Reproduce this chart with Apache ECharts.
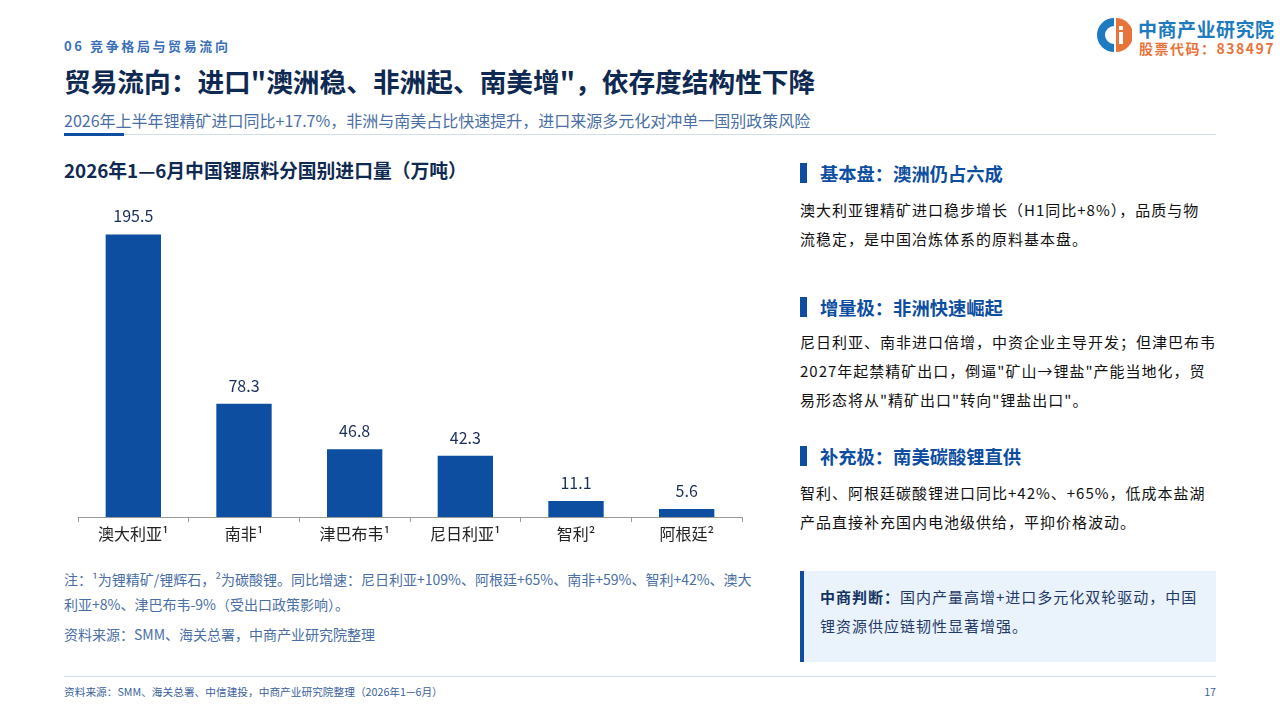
<!DOCTYPE html>
<html>
<head>
<meta charset="utf-8">
<script src="https://cdn.jsdelivr.net/npm/echarts@6/dist/echarts.min.js"></script>
<style>
  html, body { margin: 0; padding: 0; }
  body { width: 1280px; height: 720px; position: relative; background: #fff; overflow: hidden;
         font-family: "Noto Sans CJK SC", "Noto Sans", sans-serif; }
  .abs { position: absolute; white-space: nowrap; }
  .sec { left: 64px; top: 36px; font-size: 13px; font-weight: bold; color: #3a70b8; letter-spacing: 2.6px; }
  .title { left: 64px; top: 61px; font-size: 26.7px; font-weight: bold; color: #0f2a52; }
  .sub { left: 64px; top: 108px; font-size: 16px; color: #4a6fa5; }
  .rule { left: 124px; top: 134px; width: 1092px; height: 1px; background: #d3deec; }
  .rule-b { left: 64px; top: 133px; width: 60px; height: 3px; background: #0d4ea0; }
  .ctitle { left: 64px; top: 156px; font-size: 18.8px; font-weight: bold; color: #0f2a52; }
  #main { position: absolute; left: 0; top: 190px; width: 780px; height: 370px; }
  .note { position: absolute; left: 64px; top: 567px; width: 700px; font-size: 14px; line-height: 25px; color: #4a6fa5; }
  .h { position: absolute; left: 800px; font-size: 18.3px; font-weight: bold; color: #0d4ea0; padding-left: 20px; line-height: 20px; }
  .h:before { content: ""; position: absolute; left: 0; top: 0; width: 7px; height: 20px; background: #0d4ea0; }
  .p { position: absolute; left: 800px; white-space: nowrap; font-size: 15px; letter-spacing: 1px; line-height: 29px; color: #111; }
  .box { position: absolute; left: 800px; top: 571px; width: 396px; height: 80px; background: #eaf2fb;
         border-left: 4px solid #0d4ea0; padding: 11px 0 0 16px; box-sizing: content-box; white-space: nowrap;
         font-size: 15px; letter-spacing: 1px; line-height: 29px; color: #1f3a66; }
  .box b { color: #143463; }
  .frule { left: 64px; top: 676px; width: 1152px; height: 1px; background: #d3deec; }
  .foot { left: 64px; top: 684px; font-size: 10.7px; color: #3a5f9a; }
  .pg { left: 1200px; top: 684px; width: 16px; text-align: right; font-size: 10.7px; color: #3a5f9a; }
  .logo1 { left: 1138px; top: 15px; font-size: 19px; font-weight: bold; color: #1f7bc0; letter-spacing: 0.5px; }
  .logo2 { left: 1139px; top: 38px; font-size: 14px; font-weight: bold; color: #e8743b; letter-spacing: 1.5px; }
</style>
</head>
<body>
<div class="abs sec">06 竞争格局与贸易流向</div>
<div class="abs title">贸易流向：进口"澳洲稳、非洲起、南美增"，依存度结构性下降</div>
<div class="abs sub">2026年上半年锂精矿进口同比+17.7%，非洲与南美占比快速提升，进口来源多元化对冲单一国别政策风险</div>
<div class="abs rule"></div>
<div class="abs rule-b"></div>

<svg class="abs" style="left:1096px;top:17px" width="36" height="36" viewBox="0 0 36 36">
  <path d="M18 1 A17 17 0 0 0 18 35 L18 27 A9 9 0 0 1 18 9 Z" fill="#1f7bc0"/>
  <path d="M20 1 A17 17 0 0 1 20 35 Z" fill="#e8743b"/>
  <rect x="23" y="15" width="4" height="12" fill="#fff"/>
  <rect x="23" y="9" width="4" height="4" fill="#fff"/>
</svg>
<div class="abs logo1">中商产业研究院</div>
<div class="abs logo2">股票代码：838497</div>

<div class="abs ctitle">2026年1—6月中国锂原料分国别进口量（万吨）</div>
<div id="main"></div>
<div class="note">注：¹为锂精矿/锂辉石，²为碳酸锂。同比增速：尼日利亚+109%、阿根廷+65%、南非+59%、智利+42%、澳大利亚+8%、津巴布韦-9%（受出口政策影响）。<div style="margin-top:5px">资料来源：SMM、海关总署，中商产业研究院整理</div></div>

<div class="h" style="top:163px">基本盘：澳洲仍占六成</div>
<div class="p" style="top:195px">澳大利亚锂精矿进口稳步增长（H1同比+8%），品质与物<br>流稳定，是中国冶炼体系的原料基本盘。</div>
<div class="h" style="top:297px">增量极：非洲快速崛起</div>
<div class="p" style="top:327px">尼日利亚、南非进口倍增，中资企业主导开发；但津巴布韦<br>2027年起禁精矿出口，倒逼"矿山→锂盐"产能当地化，贸<br>易形态将从"精矿出口"转向"锂盐出口"。</div>
<div class="h" style="top:446px">补充极：南美碳酸锂直供</div>
<div class="p" style="top:478px">智利、阿根廷碳酸锂进口同比+42%、+65%，低成本盐湖<br>产品直接补充国内电池级供给，平抑价格波动。</div>
<div class="box"><b>中商判断：</b>国内产量高增+进口多元化双轮驱动，中国<br>锂资源供应链韧性显著增强。</div>

<div class="abs frule"></div>
<div class="abs foot">资料来源：SMM、海关总署、中信建投，中商产业研究院整理（2026年1—6月）</div>
<div class="abs pg">17</div>

<script>
var countries = ['澳大利亚¹', '南非¹', '津巴布韦¹', '尼日利亚¹', '智利²', '阿根廷²'];
var imports = [195.5, 78.3, 46.8, 42.3, 11.1, 5.6];

var chart = echarts.init(document.getElementById('main'));
chart.setOption({
  animation: false,
  textStyle: { fontFamily: 'Noto Sans CJK SC' },
  grid: { left: 78, right: 38, top: 9, bottom: 43 },
  xAxis: {
    type: 'category',
    data: countries,
    axisLine: { lineStyle: { color: '#999', width: 1 } },
    axisTick: { show: true, length: 5, lineStyle: { color: '#999' } },
    axisLabel: { fontSize: 16, color: '#222', margin: 9 }
  },
  yAxis: { type: 'value', min: 0, max: 220, show: false, splitLine: { show: false } },
  series: [{
    type: 'bar',
    data: imports,
    barWidth: '50%',
    itemStyle: { color: '#0d4ea0' },
    label: { show: true, position: 'top', distance: 10, fontSize: 16, color: '#1a2f5a',
             formatter: function (p) { return p.value.toFixed(1); } }
  }]
});
</script>
</body>
</html>
